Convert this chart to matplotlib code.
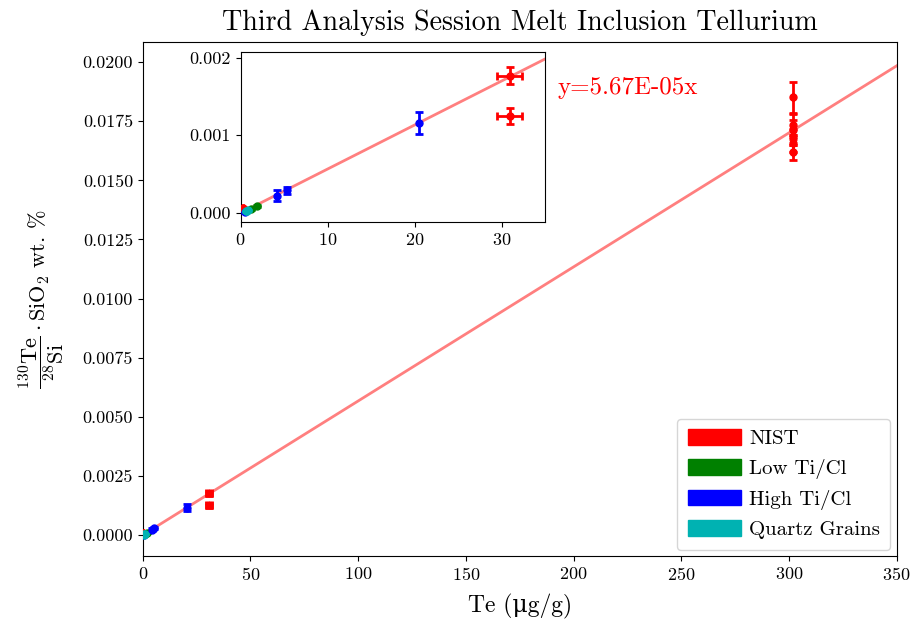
import matplotlib
matplotlib.use("Agg")
import matplotlib.pyplot as plt
import matplotlib.patches as mpatches
import numpy as np

plt.rcParams['font.family'] = ['cmr10', 'DejaVu Serif']
plt.rcParams['mathtext.fontset'] = 'cm'
plt.rcParams['axes.formatter.use_mathtext'] = True

# ---- data ----
slope = 5.67e-05
fit_x = [0, 350]

nist_x = [0.27, 30.9, 30.9, 302, 302, 302, 302, 302, 302]
nist_y = [0.00007, 0.00177, 0.00125, 0.01851, 0.01735, 0.01715, 0.01684, 0.01656, 0.01618]
nist_xerr = [0.0, 1.45, 1.45, 0.0, 0.0, 0.0, 0.0, 0.0, 0.0]
nist_yerr = [0.00001, 0.00011, 0.00010, 0.00066, 0.00045, 0.00040, 0.00035, 0.00035, 0.00032]

low_x = [1.15, 1.84]
low_y = [0.000048, 0.00009]
low_yerr = [0.00001, 0.00001]

high_x = [0.5, 4.18, 5.3, 20.5]
high_y = [0.00001, 0.00022, 0.00029, 0.00116]
high_yerr = [0.00001, 0.00007, 0.00004, 0.000145]

quartz_x = [0.6, 0.75, 0.85]
quartz_y = [0.00002, 0.000028, 0.000035]
quartz_yerr = [0.000005, 0.000005, 0.000005]

legend_labels = ['NIST', 'Low Ti/Cl', 'High Ti/Cl', 'Quartz Grains']
colors = ['red', 'green', 'blue', '#00b2b2']
fit_label = 'y=5.67E-05x'

fig = plt.figure(figsize=(9.15, 6.29), dpi=100)
ax = fig.add_axes([0.156, 0.116, 0.824, 0.817])


def draw(a, xmax):
    xs = np.array([0, xmax])
    a.plot(xs, slope * xs, color='red', alpha=0.5, lw=2, zorder=1)
    a.errorbar(nist_x, nist_y, xerr=nist_xerr, yerr=nist_yerr, fmt='o', color='red',
               ms=5, capsize=3, elinewidth=2, capthick=2, zorder=3)
    a.errorbar(low_x, low_y, yerr=low_yerr, fmt='o', color='green',
               ms=5, capsize=3, elinewidth=2, capthick=2, zorder=3)
    a.errorbar(high_x, high_y, yerr=high_yerr, fmt='o', color='blue',
               ms=5, capsize=3, elinewidth=2, capthick=2, zorder=3)
    a.errorbar(quartz_x, quartz_y, yerr=quartz_yerr, fmt='o', color=colors[3],
               ms=5, capsize=3, elinewidth=2, capthick=2, zorder=4)


draw(ax, fit_x[1])
ax.set_xlim(0, 350)
ax.set_ylim(-0.000888, 0.020846)
ax.set_yticks(np.arange(0, 0.02001, 0.0025))
ax.yaxis.set_major_formatter(matplotlib.ticker.FormatStrFormatter('%.4f'))
ax.tick_params(labelsize=13)
ax.set_title('Third Analysis Session Melt Inclusion Tellurium', fontsize=20.2, pad=9)
ax.set_xlabel('Te (\u03bcg/g)', fontsize=17, labelpad=8)
ax.set_ylabel(r'$\dfrac{^{130}\mathrm{Te}}{^{28}\mathrm{Si}}\cdot\mathrm{SiO_2}$ wt. %',
              fontsize=16, labelpad=12)

handles = [mpatches.Patch(color=c, label=l) for c, l in zip(colors, legend_labels)]
ax.legend(handles=handles, loc='lower right', fontsize=15, handlelength=2.55,
          handleheight=0.8, labelspacing=0.5, borderpad=0.5, handletextpad=0.4,
          borderaxespad=0.3, fancybox=True, framealpha=0.8)

fig.text(557 / 915, 1 - 88 / 629, fit_label, color='red', fontsize=18, va='center', ha='left')

axin = fig.add_axes([0.263, 0.647, 0.333, 0.270])
draw(axin, 35)
axin.set_xlim(0, 35)
axin.set_ylim(-0.000116, 0.00207)
axin.set_yticks([0, 0.001, 0.002])
axin.yaxis.set_major_formatter(matplotlib.ticker.FormatStrFormatter('%.3f'))
axin.tick_params(labelsize=13)

fig.savefig('out.png', dpi=100)
